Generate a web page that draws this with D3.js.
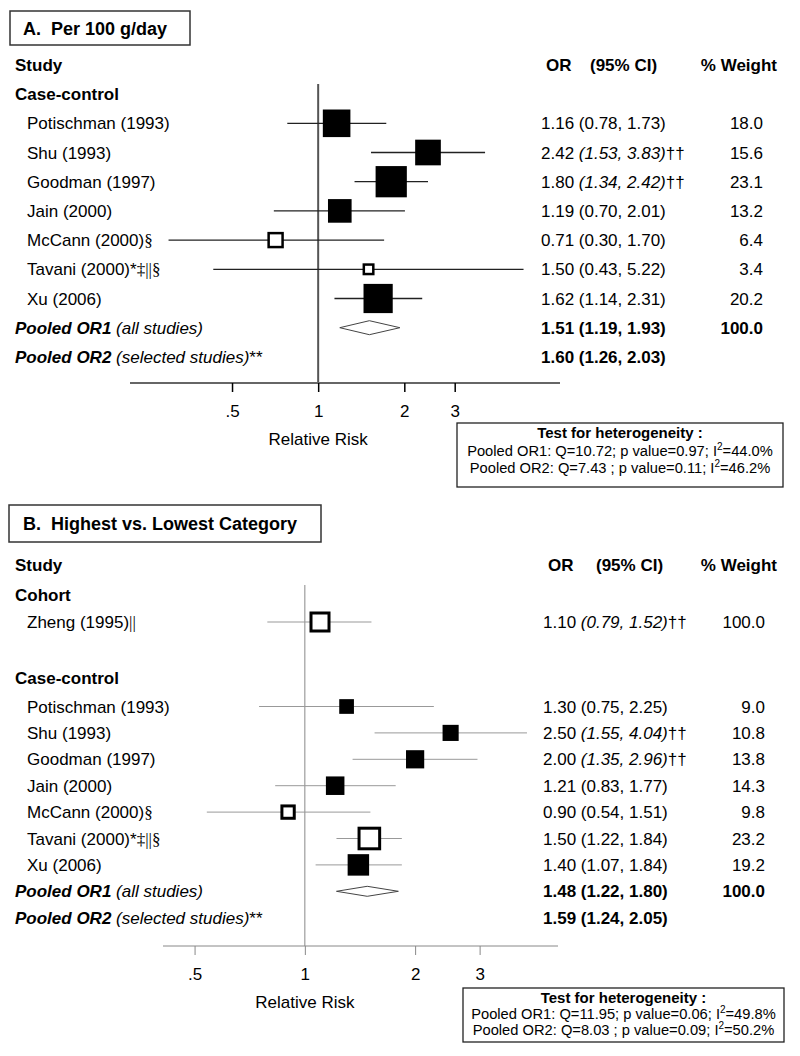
<!DOCTYPE html>
<html><head><meta charset="utf-8">
<script src="https://cdn.jsdelivr.net/npm/d3@7"></script>
<style>body{margin:0;background:#fff}svg{display:block}text{font-family:"Liberation Sans",Arial,sans-serif;white-space:pre}</style>
</head><body>
<script>
// ---------- DATA ----------
const titleA = "A.  Per 100 g/day";
const studiesA = ["Potischman (1993)","Shu (1993)","Goodman (1997)","Jain (2000)","McCann (2000)","Tavani (2000)","Xu (2006)"];
const notesA = ["","","","","§","*‡||§",""];
const orA = [1.16,2.42,1.80,1.19,0.71,1.50,1.62];
const lowA = [0.78,1.53,1.34,0.70,0.30,0.43,1.14];
const highA = [1.73,3.83,2.42,2.01,1.70,5.22,2.31];
const weightA = [18.0,15.6,23.1,13.2,6.4,3.4,20.2];
const sigA = [false,true,true,false,false,false,false];
const excludedA = [false,false,false,false,true,true,false];
const pooledA = [{or:1.51,lo:1.19,hi:1.93,w:100.0},{or:1.60,lo:1.26,hi:2.03,w:null}];
const hetA = ["Pooled OR1: Q=10.72; p value=0.97; I","=44.0%","Pooled OR2: Q=7.43 ; p value=0.11; I","=46.2%"];

const titleB = "B.  Highest vs. Lowest Category";
const cohortStudies = ["Zheng (1995)"];
const cohortNotes = ["||"];
const cohortOr = [1.10], cohortLow = [0.79], cohortHigh = [1.52], cohortWeight = [100.0];
const cohortSig = [true], cohortExcluded = [true];
const studiesB = ["Potischman (1993)","Shu (1993)","Goodman (1997)","Jain (2000)","McCann (2000)","Tavani (2000)","Xu (2006)"];
const notesB = ["","","","","§","*‡||§",""];
const orB = [1.30,2.50,2.00,1.21,0.90,1.50,1.40];
const lowB = [0.75,1.55,1.35,0.83,0.54,1.22,1.07];
const highB = [2.25,4.04,2.96,1.77,1.51,1.84,1.84];
const weightB = [9.0,10.8,13.8,14.3,9.8,23.2,19.2];
const sigB = [false,true,true,false,false,false,false];
const excludedB = [false,false,false,false,true,true,false];
const pooledB = [{or:1.48,lo:1.22,hi:1.80,w:100.0},{or:1.59,lo:1.24,hi:2.05,w:null}];
const hetB = ["Pooled OR1: Q=11.95; p value=0.06; I","=49.8%","Pooled OR2: Q=8.03 ; p value=0.09; I","=50.2%"];

const tickValues = [0.5,1,2,3];
const tickLabels = [".5","1","2","3"];

// ---------- DRAW ----------
const svg = d3.select("body").append("svg").attr("width",800).attr("height",1056);
svg.append("rect").attr("width",800).attr("height",1056).attr("fill","#fff");
const f2 = d3.format(".2f"), f1 = d3.format(".1f");
const FS = 17;

function build(studies,notes,or,lo,hi,w,sig,exc){
  return studies.map((s,i)=>({name:s,note:notes[i],or:or[i],lo:lo[i],hi:hi[i],w:w[i],sig:sig[i],exc:exc[i]}));
}

function drawPanel(cfg){
  const g = svg.append("g");
  // title box
  g.append("rect").attr("x",cfg.title.x).attr("y",cfg.title.y).attr("width",cfg.title.w).attr("height",cfg.title.h)
    .attr("fill","#fff").attr("stroke","#333").attr("stroke-width",1.5);
  g.append("text").attr("x",cfg.title.tx).attr("y",cfg.title.y+cfg.title.h/2+6.5).attr("font-size",18).attr("font-weight","bold").text(cfg.titleText);

  const x = d3.scaleLog().domain(cfg.domain).range(cfg.range);

  // headers
  g.append("text").attr("x",15).attr("y",cfg.headerY+6).attr("font-size",FS).attr("font-weight","bold").text("Study");
  g.append("text").attr("x",cfg.orX+5).attr("y",cfg.headerY+6).attr("font-size",FS).attr("font-weight","bold").text("OR");
  g.append("text").attr("x",cfg.ciHX).attr("y",cfg.headerY+6).attr("font-size",FS).attr("font-weight","bold").text("(95% CI)");
  g.append("text").attr("x",777).attr("y",cfg.headerY+6).attr("text-anchor","end").attr("font-size",FS).attr("font-weight","bold").text("% Weight");

  // null line
  g.append("line").attr("x1",x(1)).attr("x2",x(1)).attr("y1",cfg.vTop).attr("y2",cfg.axisY)
    .attr("stroke",cfg.refColor).attr("stroke-width",cfg.refW);

  // axis
  const axis = d3.axisBottom(x).tickValues(tickValues).tickFormat((d,i)=>tickLabels[i]).tickSize(cfg.tickLen).tickPadding(cfg.tickPad);
  const ax = g.append("g").attr("transform",`translate(0,${cfg.axisY})`).call(axis);
  ax.select(".domain").attr("d",`M${cfg.range[0]},0H${cfg.range[1]}`).attr("stroke",cfg.axisColor).attr("stroke-width",cfg.axisW);
  ax.selectAll(".tick line").attr("stroke",cfg.tickColor).attr("stroke-width",cfg.tickW);
  ax.selectAll(".tick text").attr("font-size",FS).attr("fill","#000").attr("font-family","Liberation Sans, Arial, sans-serif");
  g.append("text").attr("x",x(1)).attr("y",cfg.xlabY).attr("text-anchor","middle").attr("font-size",FS).text("Relative Risk");

  function studyRow(d,y,boxK){
    const t = g.append("text").attr("x",27).attr("y",y+6).attr("font-size",FS);
    t.append("tspan").text(d.name);
    if(d.note){
      for(const ch of d.note){
        t.append("tspan").attr("font-family", ch==="*" ? "Liberation Sans, Arial" : "Liberation Serif, Times New Roman, serif").text(ch);
      }
    }
    // CI line
    g.append("line").attr("x1",x(d.lo)).attr("x2",x(d.hi)).attr("y1",y).attr("y2",y).attr("stroke",cfg.ciColor).attr("stroke-width",cfg.ciW);
    const s = boxK*Math.sqrt(d.w);
    if(d.exc){
      g.append("rect").attr("x",x(d.or)-s/2+cfg.hollowW/2).attr("y",y-s/2+cfg.hollowW/2).attr("width",s-cfg.hollowW).attr("height",s-cfg.hollowW)
        .attr("fill","#fff").attr("stroke","#000").attr("stroke-width",cfg.hollowW);
    } else {
      g.append("rect").attr("x",x(d.or)-s/2).attr("y",y-s/2).attr("width",s).attr("height",s).attr("fill","#000");
    }
    const o = g.append("text").attr("x",cfg.orX).attr("y",y+6).attr("font-size",FS);
    o.append("tspan").text(f2(d.or)+" ");
    o.append("tspan").attr("font-style",d.sig?"italic":"normal").text(`(${f2(d.lo)}, ${f2(d.hi)})`);
    if(d.sig) o.append("tspan").text("††");
    g.append("text").attr("x",cfg.wX).attr("y",y+6).attr("text-anchor","end").attr("font-size",FS).text(f1(d.w));
  }

  cfg.groups.forEach(grp=>{
    g.append("text").attr("x",15).attr("y",grp.headY+6).attr("font-size",FS).attr("font-weight","bold").text(grp.name);
    grp.rows.forEach((d,i)=>studyRow(d,grp.y0+i*cfg.step,grp.boxK));
  });

  // pooled
  const pLabels = [["Pooled OR1"," (all studies)",""],["Pooled OR2"," (selected studies)","**"]];
  cfg.pooled.forEach((p,i)=>{
    const y = cfg.pooledY + i*cfg.step;
    const t = g.append("text").attr("x",15).attr("y",y+6).attr("font-size",FS);
    t.append("tspan").attr("font-weight","bold").attr("font-style","italic").text(pLabels[i][0]);
    t.append("tspan").attr("font-style","italic").text(pLabels[i][1]);
    if(pLabels[i][2]) t.append("tspan").text(pLabels[i][2]);
    if(i===0){
      const h = cfg.diamondH/2;
      g.append("path").attr("d",`M${x(p.lo)},${y}L${x(p.or)},${y-h}L${x(p.hi)},${y}L${x(p.or)},${y+h}Z`)
        .attr("fill","#fff").attr("stroke","#444").attr("stroke-width",1);
    }
    g.append("text").attr("x",cfg.orX).attr("y",y+6).attr("font-size",FS).attr("font-weight","bold")
      .text(`${f2(p.or)} (${f2(p.lo)}, ${f2(p.hi)})`);
    if(p.w!==null) g.append("text").attr("x",cfg.wX).attr("y",y+6).attr("text-anchor","end").attr("font-size",FS).attr("font-weight","bold").text(f1(p.w));
  });

  // heterogeneity box
  const hb = cfg.het;
  g.append("rect").attr("x",hb.x).attr("y",hb.y).attr("width",hb.w).attr("height",hb.h).attr("fill","#fff").attr("stroke","#222").attr("stroke-width",1.3);
  const cx = hb.x+hb.w/2;
  g.append("text").attr("x",cx).attr("y",hb.y1).attr("text-anchor","middle").attr("font-size",15).attr("font-weight","bold").text("Test for heterogeneity :");
  [0,1].forEach(k=>{
    const t = g.append("text").attr("x",cx).attr("y",hb.y1+hb.dy*(k+1)).attr("text-anchor","middle").attr("font-size",14.7);
    t.append("tspan").text(cfg.hetText[2*k]);
    t.append("tspan").attr("font-size",10).attr("dy",-6).text("2");
    t.append("tspan").attr("dy",6).text(cfg.hetText[2*k+1]);
  });
}

drawPanel({
  titleText:titleA, title:{x:10,y:11,w:180,h:34,tx:23},
  domain:[0.22,7.0], range:[130,560],
  headerY:65, orX:541, ciHX:590, wX:763,
  vTop:84, axisY:383, tickLen:9, tickPad:13, xlabY:445,
  refColor:"#555", refW:2, axisColor:"#666", axisW:2, tickColor:"#000", tickW:1.5,
  ciColor:"#222", ciW:1.3, hollowW:2.5, diamondH:14, step:29.2,
  groups:[{name:"Case-control", headY:94, y0:123.3, boxK:6.5,
    rows:build(studiesA,notesA,orA,lowA,highA,weightA,sigA,excludedA)}],
  pooledY:327.7, pooled:pooledA,
  het:{x:457,y:423,w:326,h:64,y1:438,dy:17.5}, hetText:hetA
});

drawPanel({
  titleText:titleB, title:{x:9,y:505,w:312,h:37,tx:23},
  domain:[0.41,4.91], range:[163,558],
  headerY:565, orX:543, ciHX:596, wX:765,
  vTop:585, axisY:946, tickLen:9, tickPad:13, xlabY:1008,
  refColor:"#888", refW:1, axisColor:"#888", axisW:1, tickColor:"#888", tickW:1,
  ciColor:"#999", ciW:1, hollowW:3, diamondH:10, step:26.4,
  groups:[
    {name:"Cohort", headY:595, y0:622, boxK:2.1,
      rows:build(cohortStudies,cohortNotes,cohortOr,cohortLow,cohortHigh,cohortWeight,cohortSig,cohortExcluded)},
    {name:"Case-control", headY:678, y0:706.5, boxK:4.9,
      rows:build(studiesB,notesB,orB,lowB,highB,weightB,sigB,excludedB)}],
  pooledY:891.3, pooled:pooledB,
  het:{x:463,y:988,w:321,h:54,y1:1003,dy:16}, hetText:hetB
});
</script>
</body></html>
